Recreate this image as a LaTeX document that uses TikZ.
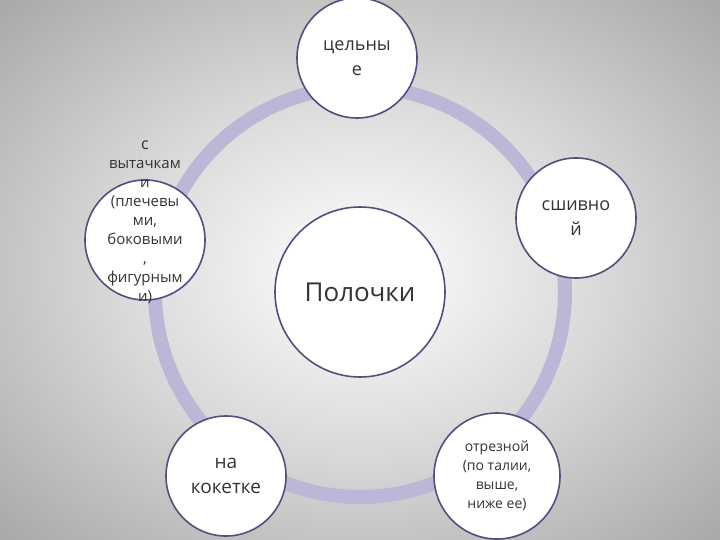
\documentclass[tikz,border=0pt]{standalone}
\usepackage{fontspec}
\setmainfont{Open Sans}
\definecolor{ring}{HTML}{BDB6D6}
\definecolor{edge}{HTML}{5B4A7E}
\definecolor{bgout}{HTML}{8E8E8E}
\tikzset{
  outer/.style={circle,draw=edge,line width=1.6pt,fill=white,minimum size=120pt,inner sep=0pt,align=center,text=black!80},
}
\begin{document}
\begin{tikzpicture}[x=1pt,y=-1pt]
\pgfdeclareradialshading{bgsh}{\pgfpoint{0cm}{0cm}}{color(0cm)=(white);color(0.6cm)=(white!85!black);color(1.6cm)=(bgout);color(2cm)=(bgout)}
\shade[shading=bgsh] (0,0) rectangle (720,540);
\useasboundingbox (0,0) rectangle (720,540);
\draw[ring,line width=14pt] (360,292) circle (205);
\node[outer,minimum size=170pt,font=\fontsize{26}{30}\selectfont] (c) at (360,292) {Полочки};
\node[outer,font=\fontsize{18}{25}\selectfont] (t) at (357,58) {цельны\\е};
\node[outer,font=\fontsize{18}{25}\selectfont] (r) at (576,218) {сшивно\\й};
\node[outer,minimum size=126pt,font=\fontsize{14}{19}\selectfont] (br) at (497,476) {отрезной\\(по талии,\\выше,\\ниже ее)};
\node[outer,font=\fontsize{19}{25}\selectfont] (bl) at (226,476) {на\\кокетке};
\node[outer] (l) at (145,240) {};
\node[align=center,text=black!80,font=\fontsize{15}{19}\selectfont] (lt) at (145,222)
 {\fontsize{16}{19}\selectfont с\\вытачкам\\и\\(плечевы\\ми,\\боковыми\\,\\фигурным\\и)};
\end{tikzpicture}
\end{document}
